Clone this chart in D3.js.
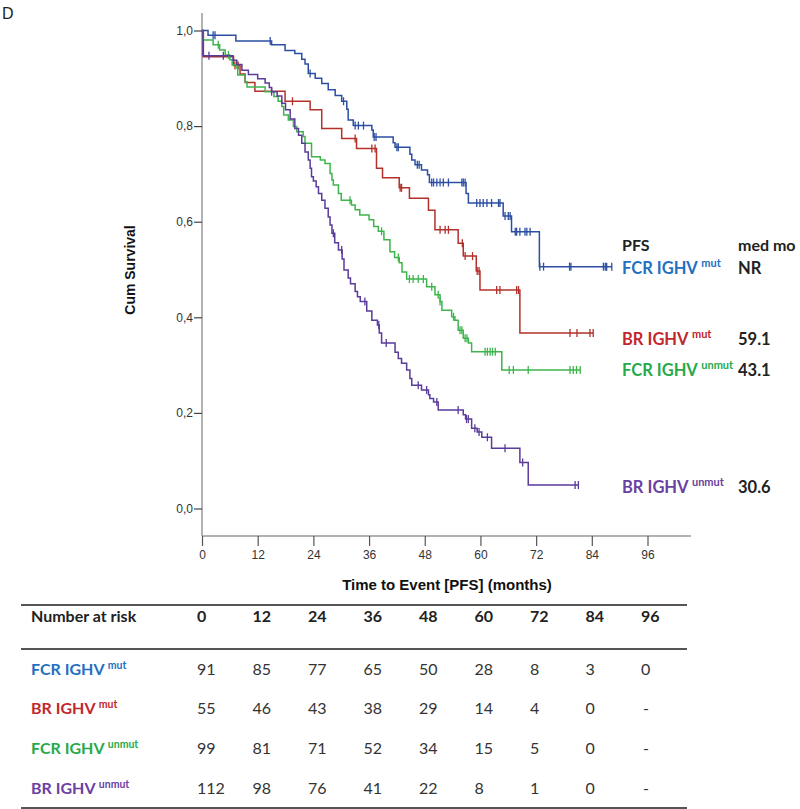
<!DOCTYPE html>
<html><head><meta charset="utf-8">
<script src="https://cdn.jsdelivr.net/npm/d3@7"></script>
<style>body{margin:0;background:#fff}svg{display:block}</style>
</head><body>
<svg id="c" width="800" height="809"></svg>
<script>
// ---- data ----
const seriesNames = ["FCR IGHV mut","BR IGHV mut","FCR IGHV unmut","BR IGHV unmut"];
const seriesBase = ["FCR IGHV","BR IGHV","FCR IGHV","BR IGHV"];
const seriesSup = ["mut","mut","unmut","unmut"];
const medians = ["NR","59.1","43.1","30.6"];

const fcrMutSteps = [[0,1.0],[1.3,0.990],[7.3,0.978],[15,0.970],[17.9,0.958],[20,0.952],[21.5,0.940],[22.2,0.930],[22.9,0.910],[24.4,0.900],[25.8,0.889],[27.2,0.876],[28.7,0.864],[30.1,0.852],[31.2,0.835],[31.5,0.813],[32.6,0.801],[36.6,0.792],[36.9,0.777],[41.2,0.765],[41.6,0.756],[44.8,0.741],[45.2,0.729],[45.9,0.719],[47.3,0.708],[48.6,0.698],[49,0.682],[56.9,0.659],[57.4,0.639],[64.9,0.612],[66.7,0.579],[72.7,0.506]];
const fcrMutEnd = 88.3;
const fcrMutCens = [2.4,2.8,14.7,23.3,30.5,33,33.7,34.8,37.1,37.5,42,42.3,46.4,46.8,49.5,49.9,50.6,51.3,52,53.1,56,56.3,56.7,59.2,59.9,60.6,61.4,62.4,63.9,64.2,65.3,66,66.4,67.5,67.8,68.5,69.6,70,70.7,72.8,73.6,79.2,79.5,86.5,86.9,87.2,88.3];

const brMutSteps = [[0,1.0],[0.3,0.945],[6.8,0.927],[8.2,0.909],[9.3,0.891],[11.4,0.873],[17.9,0.852],[23.3,0.834],[25.8,0.795],[30.1,0.774],[33.3,0.753],[37.6,0.712],[38.9,0.692],[42.5,0.671],[44.7,0.649],[48.8,0.624],[50.2,0.583],[55.2,0.555],[56.3,0.528],[59.1,0.497],[59.9,0.457],[68.5,0.367]];
const brMutEnd = 84.3;
const brMutCens = [7.1,7.8,19.5,33,36.6,37.3,42.7,43,51.3,52.4,53.1,56.1,56.7,58.3,59.3,59.7,63.5,64.2,67.8,68.2,79.3,80.8,83.6,84.3];

const fcrUnmutSteps = [[0,1.0],[0.2,0.980],[2.4,0.970],[3.8,0.959],[5,0.949],[6,0.939],[6.5,0.928],[7.7,0.907],[9.3,0.893],[9.7,0.882],[13.6,0.872],[15.5,0.862],[16.4,0.852],[17.2,0.841],[17.6,0.823],[18.6,0.813],[19.7,0.799],[20.4,0.788],[21.8,0.778],[22.2,0.764],[23.6,0.736],[25.5,0.729],[26.5,0.722],[27.6,0.701],[28,0.687],[28.3,0.677],[29.4,0.659],[30,0.645],[32.2,0.635],[33,0.625],[34,0.614],[36,0.604],[37,0.590],[38,0.580],[39.2,0.562],[40.5,0.537],[41.5,0.525],[42.5,0.514],[43.1,0.495],[44.1,0.480],[48.4,0.464],[50.2,0.447],[51.3,0.433],[51.7,0.415],[53.8,0.401],[54.5,0.394],[55.2,0.373],[56.3,0.356],[57.4,0.346],[58.1,0.328],[64.6,0.290]];
const fcrUnmutEnd = 81.5;
const fcrUnmutCens = [3.5,5.7,7.5,31.9,38.7,42.3,44.7,45.5,46.6,47.7,49.5,50.9,51.3,54.2,55.6,56,56.7,57.1,61,61.5,62.1,62.6,63.2,66.2,67.1,70.3,79.3,80,80.7,81.5];

const brUnmutSteps = [[0,1.0],[0.2,0.947],[6.7,0.938],[7.5,0.929],[8.6,0.917],[10,0.908],[12,0.899],[13.6,0.890],[14.5,0.881],[15,0.872],[16.2,0.863],[17.2,0.848],[18,0.834],[19,0.815],[20,0.795],[20.8,0.781],[21.5,0.764],[22.2,0.746],[22.9,0.729],[23.3,0.712],[23.6,0.694],[24,0.685],[24.6,0.673],[25.1,0.659],[25.8,0.645],[26.5,0.628],[27.2,0.610],[27.6,0.593],[28,0.576],[28.6,0.556],[29.4,0.541],[30.2,0.522],[30.6,0.499],[31.5,0.482],[32,0.470],[33,0.454],[33.5,0.443],[34.1,0.433],[35.5,0.413],[36.6,0.394],[37.8,0.384],[38.2,0.367],[38.7,0.346],[41.6,0.327],[42.3,0.314],[43,0.304],[44.1,0.290],[44.8,0.272],[45.2,0.258],[47.3,0.248],[48.8,0.238],[49.1,0.230],[49.9,0.223],[50.9,0.206],[56.3,0.196],[56.8,0.187],[58.1,0.168],[59.3,0.160],[60.3,0.149],[62.4,0.126],[68.5,0.096],[70.3,0.049]];
const brUnmutEnd = 81.1;
const brUnmutCens = [1.5,4.6,15,28.3,30.1,35.1,38.1,39.7,46.6,48.4,50.6,55.2,57,57.4,58.8,59.7,61.5,65.3,69.1,80.4,81.1];

const xTicks = [0,12,24,36,48,60,72,84,96];
const yTicks = [0,0.2,0.4,0.6,0.8,1.0];
const riskHeader = ["0","12","24","36","48","60","72","84","96"];
const riskFcrMut = ["91","85","77","65","50","28","8","3","0"];
const riskBrMut = ["55","46","43","38","29","14","4","0","-"];
const riskFcrUnmut = ["99","81","71","52","34","15","5","0","-"];
const riskBrUnmut = ["112","98","76","41","22","8","1","0","-"];

// ---- styles ----
const curveColors = ["#2c4fa3","#b3302b","#3db54c","#5b3b9b"];
const labelColors = ["#1f70c1","#c1272d","#27a94b","#6a40a2"];

const series = [
  {steps:fcrMutSteps,end:fcrMutEnd,cens:fcrMutCens},
  {steps:brMutSteps,end:brMutEnd,cens:brMutCens},
  {steps:fcrUnmutSteps,end:fcrUnmutEnd,cens:fcrUnmutCens},
  {steps:brUnmutSteps,end:brUnmutEnd,cens:brUnmutCens}
];
const risk = [riskFcrMut,riskBrMut,riskFcrUnmut,riskBrUnmut];

const svg = d3.select("#c");
const x = d3.scaleLinear().domain([0,96]).range([202,647.5]);
const y = d3.scaleLinear().domain([0,1]).range([508.5,30.5]);
const axisY = 536;

// panel letter
svg.append("text").attr("x",2).attr("y",19).attr("font-family","Liberation Sans, Arial").attr("font-size",16).attr("fill","#222").text("D");

// y axis
svg.append("line").attr("x1",202).attr("x2",202).attr("y1",13).attr("y2",axisY).attr("stroke","#999").attr("stroke-width",1.5);
const yAx = d3.axisLeft(y).tickValues(yTicks).tickSize(8).tickFormat(d=>d3.format(".1f")(d).replace(".",","));
const gy = svg.append("g").attr("transform","translate(202,0)").call(yAx);
gy.select(".domain").remove();
gy.selectAll(".tick line").attr("stroke","#444").attr("stroke-width",1.2);
gy.selectAll(".tick text").attr("font-family","Liberation Sans, Arial").attr("font-size",12).attr("fill","#333").attr("x",-9);

// x axis
svg.append("line").attr("x1",202).attr("x2",691).attr("y1",axisY).attr("y2",axisY).attr("stroke","#999").attr("stroke-width",1.5);
const xAx = d3.axisBottom(x).tickValues(xTicks).tickSize(10).tickFormat(d3.format("d"));
const gx = svg.append("g").attr("transform",`translate(0,${axisY})`).call(xAx);
gx.select(".domain").remove();
gx.selectAll(".tick line").attr("stroke","#555").attr("stroke-width",1.2);
gx.selectAll(".tick text").attr("font-family","Liberation Sans, Arial").attr("font-size",12).attr("fill","#333").attr("y",14);

svg.append("text").attr("x",447).attr("y",590).attr("text-anchor","middle").attr("font-family","Liberation Sans, Arial").attr("font-weight","bold").attr("font-size",15).attr("fill","#111").text("Time to Event [PFS] (months)");
svg.append("text").attr("transform","translate(135,270) rotate(-90)").attr("text-anchor","middle").attr("font-family","Liberation Sans, Arial").attr("font-weight","bold").attr("font-size",14).attr("fill","#111").text("Cum Survival");

// curves
function survAt(steps,t){let s=steps[0][1];for(const p of steps){if(p[0]<=t)s=p[1];}return s;}
const line = d3.line().x(d=>x(d[0])).y(d=>y(d[1])).curve(d3.curveStepAfter);
series.forEach((sr,i)=>{
  const pts = sr.steps.concat([[sr.end, sr.steps[sr.steps.length-1][1]]]);
  svg.append("path").attr("d",line(pts)).attr("fill","none").attr("stroke",curveColors[i]).attr("stroke-width",1.5);
  svg.append("g").selectAll("line").data(sr.cens).join("line")
    .attr("x1",d=>x(d)).attr("x2",d=>x(d))
    .attr("y1",d=>y(survAt(sr.steps,d))-4).attr("y2",d=>y(survAt(sr.steps,d))+4)
    .attr("stroke",curveColors[i]).attr("stroke-width",1.3);
});

// legend
const lf = "Lato, 'Open Sans', sans-serif";
svg.append("text").attr("x",622).attr("y",251).attr("font-family",lf).attr("font-weight","bold").attr("font-size",16).attr("fill","#222").text("PFS");
svg.append("text").attr("x",738).attr("y",251).attr("font-family",lf).attr("font-weight","bold").attr("font-size",16).attr("fill","#222").text("med mo");
const legY = [274,345,376,493];
seriesNames.forEach((n,i)=>{
  const t = svg.append("text").attr("x",622).attr("y",legY[i]).attr("font-family",lf).attr("font-weight","bold").attr("font-size",16.5).attr("fill",labelColors[i]);
  t.append("tspan").text(seriesBase[i]+" ");
  t.append("tspan").attr("font-size",11).attr("dy",-7).text(seriesSup[i]);
  svg.append("text").attr("x",738).attr("y",legY[i]).attr("font-family",lf).attr("font-weight","bold").attr("font-size",16.5).attr("fill","#222").text(medians[i]);
});

// risk table
[605,649,808].forEach(yy=>svg.append("line").attr("x1",21).attr("x2",687).attr("y1",yy).attr("y2",yy).attr("stroke","#555").attr("stroke-width",2));
const colX = d3.scaleLinear().domain([0,8]).range([197,641]);
svg.append("text").attr("x",31).attr("y",622).attr("font-family",lf).attr("font-weight","bold").attr("font-size",16).attr("fill","#222").text("Number at risk");
svg.append("g").selectAll("text").data(riskHeader).join("text")
  .attr("x",(d,i)=>colX(i)).attr("y",622).attr("font-family",lf).attr("font-weight","bold").attr("font-size",16).attr("fill","#222").text(d=>d);
const rowY = [675,714,754,794];
risk.forEach((row,r)=>{
  const t = svg.append("text").attr("x",31).attr("y",rowY[r]).attr("font-family",lf).attr("font-weight","bold").attr("font-size",16).attr("fill",labelColors[r]);
  t.append("tspan").text(seriesBase[r]+" ");
  t.append("tspan").attr("font-size",10.5).attr("dy",-6).text(seriesSup[r]);
  svg.append("g").selectAll("text").data(row).join("text")
    .attr("x",(d,i)=>colX(i)+(d==="-"?2:0)).attr("y",rowY[r]).attr("font-family",lf).attr("font-size",16).attr("fill","#333").text(d=>d);
});
</script>
</body></html>
